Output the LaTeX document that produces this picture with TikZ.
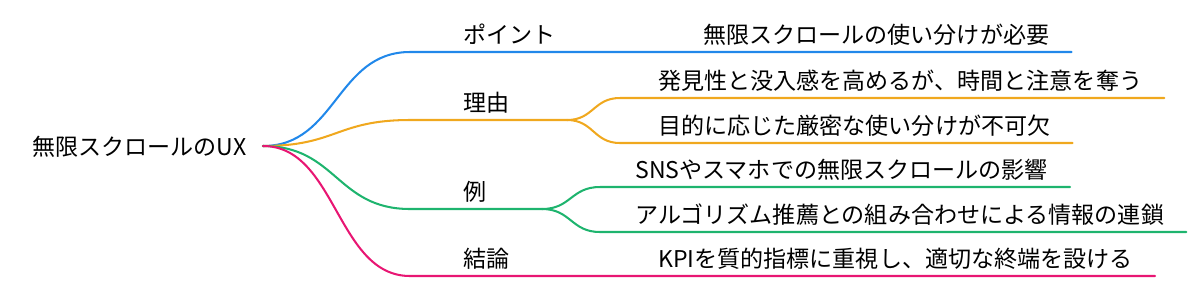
\documentclass[tikz,border=0pt]{standalone}
\usepackage{fontspec}
\setmainfont{Noto Sans CJK JP}
\usetikzlibrary{calc}

\definecolor{mmblue}{RGB}{33,136,234}
\definecolor{mmorange}{RGB}{240,168,30}
\definecolor{mmgreen}{RGB}{30,180,110}
\definecolor{mmpink}{RGB}{232,22,115}

\tikzset{
  lbl/.style={inner sep=0pt, anchor=base west, font=\fontsize{16.4}{20}\selectfont},
  edge/.style={line width=1.45pt, line cap=round},
}

\begin{document}
\begin{tikzpicture}[x=0.025cm, y=-0.025cm]
    % 1px = 1 unit, y goes down
    \useasboundingbox (0,0) rectangle (1200,292);

    % Root
    \node[lbl] (root) at (32,155) {無限スクロールのUX};
    \coordinate (r) at (263,146);

    % Level 1
    \node[lbl] (pt) at (463,43) {ポイント};
    \node[lbl] (ry) at (463,111) {理由};
    \node[lbl] (rei) at (463,200) {例};
    \node[lbl] (kr) at (463,267) {結論};

    \coordinate (pt0) at (410,52);  \coordinate (pt1) at (612,52);
    \coordinate (ry0) at (410,120); \coordinate (ry1) at (567,120);
    \coordinate (rei0) at (410,209); \coordinate (rei1) at (542,209);
    \coordinate (kr0) at (410,276); \coordinate (kr1) at (567,276);

    % Level 2
    \node[lbl] (pta) at (703,43) {無限スクロールの使い分けが必要};
    \node[lbl] (rya) at (658,89) {発見性と没入感を高めるが、時間と注意を奪う};
    \node[lbl] (ryb) at (658,134) {目的に応じた厳密な使い分けが不可欠};
    \node[lbl] (reia) at (635,178) {SNSやスマホでの無限スクロールの影響};
    \node[lbl] (reib) at (635,223) {アルゴリズム推薦との組み合わせによる情報の連鎖};
    \node[lbl] (kra) at (658,267) {KPIを質的指標に重視し、適切な終端を設ける};

    \coordinate (pta0) at (665,52);
    \coordinate (rya0) at (620,98);
    \coordinate (ryb0) at (620,143);
    \coordinate (reia0) at (600,187);
    \coordinate (reib0) at (600,232);
    \coordinate (kra0) at (620,276);

    % Branches
    \draw[edge, mmblue] (r) .. controls (336.5,146) and (336.5,52) .. (pt0) -- (pt1) -- (pta0)
        -- ($(pta.base east)+(22,9)$);

    \draw[edge, mmorange] (r) .. controls (336.5,146) and (336.5,120) .. (ry0) -- (ry1);
    \draw[edge, mmorange] (ry1) .. controls (593.5,120) and (593.5,98) .. (rya0)
        -- ($(rya.base east)+(22,9)$);
    \draw[edge, mmorange] (ry1) .. controls (593.5,120) and (593.5,143) .. (ryb0)
        -- ($(ryb.base east)+(22,9)$);

    \draw[edge, mmgreen] (r) .. controls (336.5,146) and (336.5,209) .. (rei0) -- (rei1);
    \draw[edge, mmgreen] (rei1) .. controls (571,209) and (571,187) .. (reia0)
        -- ($(reia.base east)+(22,9)$);
    \draw[edge, mmgreen] (rei1) .. controls (571,209) and (571,232) .. (reib0)
        -- ($(reib.base east)+(22,9)$);

    \draw[edge, mmpink] (r) .. controls (336.5,146) and (336.5,276) .. (kr0) -- (kr1) -- (kra0)
        -- ($(kra.base east)+(22,9)$);

\end{tikzpicture}
\end{document}
